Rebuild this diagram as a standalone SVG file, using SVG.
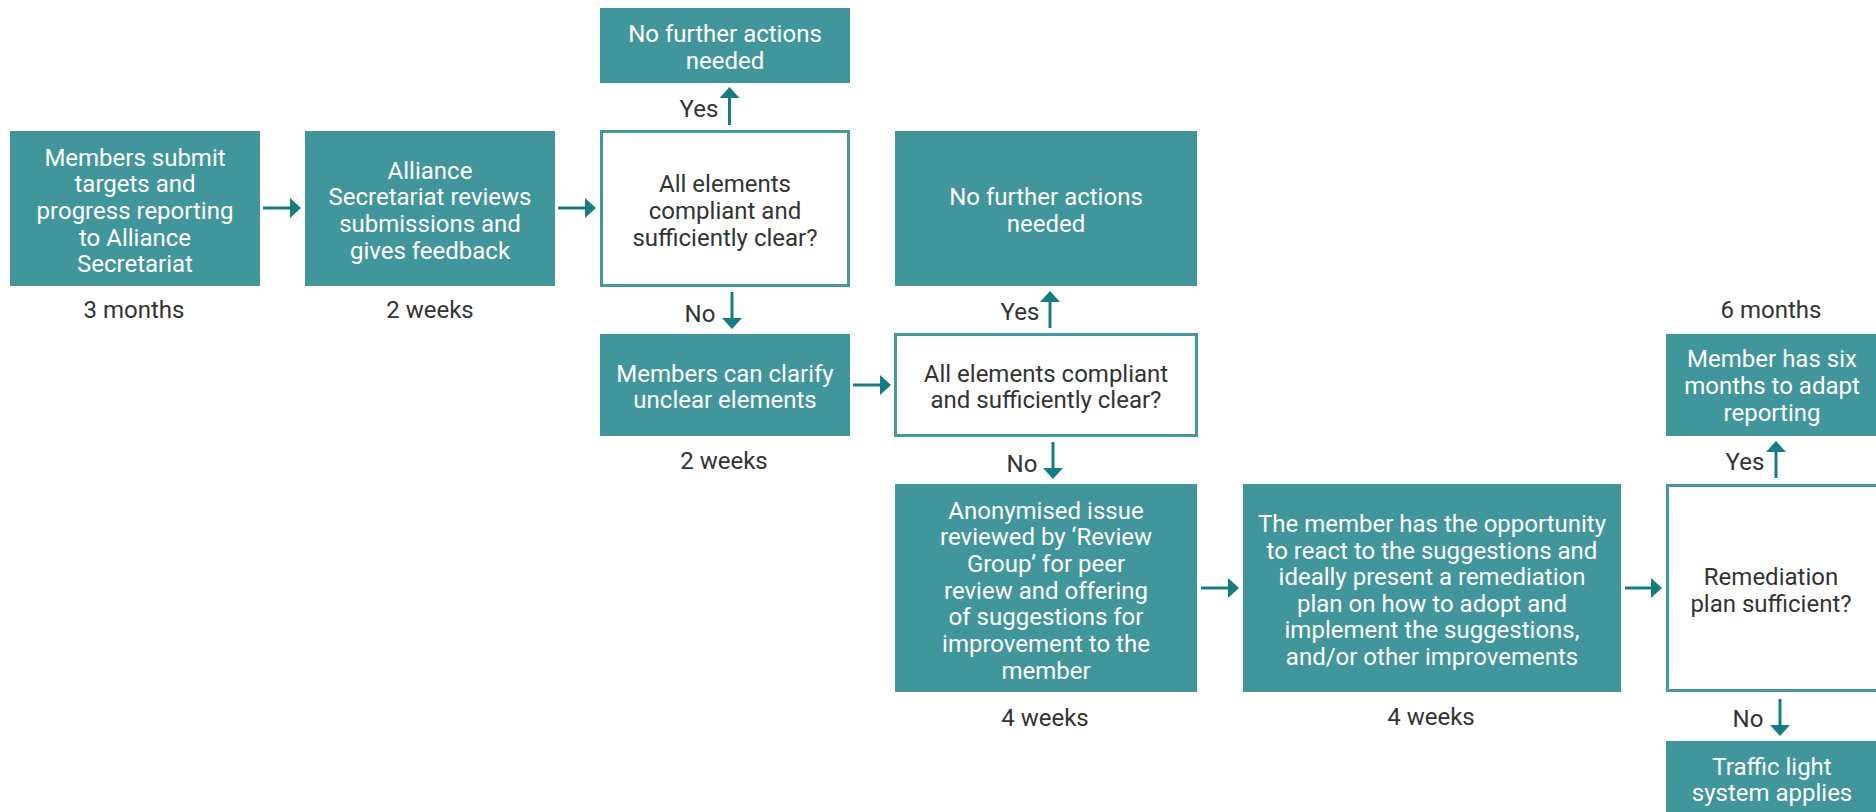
<svg xmlns="http://www.w3.org/2000/svg" width="1876" height="812" viewBox="0 0 1876 812">
<style>
.box{fill:#41969b;}
.dec{fill:#ffffff;stroke:#45999e;stroke-width:3;}
.bt{font-family:Roboto,"Liberation Sans",sans-serif;font-size:24px;fill:#ffffff;text-anchor:middle;}
.dt{font-family:Roboto,"Liberation Sans",sans-serif;font-size:24px;fill:#333333;text-anchor:middle;}
.lb{font-family:Roboto,"Liberation Sans",sans-serif;font-size:24px;fill:#333333;text-anchor:middle;}
.ar{stroke:#147c82;stroke-width:3;fill:none;marker-end:url(#ah);}
</style>
<defs>
<marker id="ah" viewBox="0 0 11 20" markerWidth="11" markerHeight="20" refX="0" refY="10" markerUnits="userSpaceOnUse" orient="auto">
<path d="M0,0 L11,10 L0,20 Z" fill="#147c82"/>
</marker>
</defs>
<rect width="1876" height="812" fill="#ffffff"/>

<g id="connectors">
<line class="ar" x1="263" y1="208" x2="290" y2="208"/>
<line class="ar" x1="558" y1="208" x2="585" y2="208"/>
<line class="ar" x1="729.5" y1="125" x2="729.5" y2="98"/>
<line class="ar" x1="732" y1="292" x2="732" y2="318"/>
<line class="ar" x1="853" y1="385" x2="880" y2="385"/>
<line class="ar" x1="1050" y1="328" x2="1050" y2="302"/>
<line class="ar" x1="1053" y1="442" x2="1053" y2="468"/>
<line class="ar" x1="1201" y1="588" x2="1228" y2="588"/>
<line class="ar" x1="1625" y1="588" x2="1651" y2="588"/>
<line class="ar" x1="1776" y1="478" x2="1776" y2="452"/>
<line class="ar" x1="1780" y1="699" x2="1780" y2="725"/>
</g>

<g id="labels">
<text class="lb" x="134" y="318">3 months</text>
<text class="lb" x="430" y="318">2 weeks</text>
<text class="lb" x="699" y="117">Yes</text>
<text class="lb" x="700" y="322">No</text>
<text class="lb" x="1020" y="320">Yes</text>
<text class="lb" x="1022" y="472">No</text>
<text class="lb" x="724" y="469">2 weeks</text>
<text class="lb" x="1045" y="726">4 weeks</text>
<text class="lb" x="1431" y="725">4 weeks</text>
<text class="lb" x="1771" y="318">6 months</text>
<text class="lb" x="1745" y="470">Yes</text>
<text class="lb" x="1748" y="727">No</text>
</g>

<g id="n1">
<rect class="box" x="10" y="131" width="250" height="155"/>
<text class="bt" x="135" y="165.5">Members submit</text>
<text class="bt" x="135" y="192">targets and</text>
<text class="bt" x="135" y="219">progress reporting</text>
<text class="bt" x="135" y="245.5">to Alliance</text>
<text class="bt" x="135" y="272">Secretariat</text>
</g>

<g id="n2">
<rect class="box" x="305" y="131" width="250" height="155"/>
<text class="bt" x="430" y="178.5">Alliance</text>
<text class="bt" x="430" y="205">Secretariat reviews</text>
<text class="bt" x="430" y="232">submissions and</text>
<text class="bt" x="430" y="258.5">gives feedback</text>
</g>

<g id="d1">
<rect class="dec" x="601.5" y="131.5" width="247" height="154"/>
<text class="dt" x="725" y="192">All elements</text>
<text class="dt" x="725" y="219">compliant and</text>
<text class="dt" x="725" y="245.5">sufficiently clear?</text>
</g>

<g id="n3">
<rect class="box" x="600" y="8" width="250" height="75"/>
<text class="bt" x="725" y="42">No further actions</text>
<text class="bt" x="725" y="68.5">needed</text>
</g>

<g id="n4">
<rect class="box" x="600" y="334" width="250" height="102"/>
<text class="bt" x="725" y="382">Members can clarify</text>
<text class="bt" x="725" y="408">unclear elements</text>
</g>

<g id="d2">
<rect class="dec" x="895.5" y="334.5" width="301" height="101"/>
<text class="dt" x="1046" y="382">All elements compliant</text>
<text class="dt" x="1046" y="408">and sufficiently clear?</text>
</g>

<g id="n5">
<rect class="box" x="895" y="131" width="302" height="155"/>
<text class="bt" x="1046" y="205">No further actions</text>
<text class="bt" x="1046" y="232">needed</text>
</g>

<g id="n6">
<rect class="box" x="895" y="484" width="302" height="208"/>
<text class="bt" x="1046" y="518.5">Anonymised issue</text>
<text class="bt" x="1046" y="545">reviewed by ‘Review</text>
<text class="bt" x="1046" y="572">Group’ for peer</text>
<text class="bt" x="1046" y="598.5">review and offering</text>
<text class="bt" x="1046" y="625">of suggestions for</text>
<text class="bt" x="1046" y="652">improvement to the</text>
<text class="bt" x="1046" y="678.5">member</text>
</g>

<g id="n7">
<rect class="box" x="1243" y="484" width="378" height="208"/>
<text class="bt" x="1432" y="532">The member has the opportunity</text>
<text class="bt" x="1432" y="558.5">to react to the suggestions and</text>
<text class="bt" x="1432" y="585">ideally present a remediation</text>
<text class="bt" x="1432" y="611.5">plan on how to adopt and</text>
<text class="bt" x="1432" y="638">implement the suggestions,</text>
<text class="bt" x="1432" y="664.5">and/or other improvements</text>
</g>

<g id="d3">
<rect class="dec" x="1667.5" y="485.5" width="214" height="205"/>
<text class="dt" x="1771" y="585">Remediation</text>
<text class="dt" x="1771" y="611.5">plan sufficient?</text>
</g>

<g id="n8">
<rect class="box" x="1666" y="334" width="214" height="102"/>
<text class="bt" x="1772" y="367">Member has six</text>
<text class="bt" x="1772" y="394">months to adapt</text>
<text class="bt" x="1772" y="421">reporting</text>
</g>

<g id="n9">
<rect class="box" x="1666" y="741" width="214" height="80"/>
<text class="bt" x="1772" y="774.5">Traffic light</text>
<text class="bt" x="1772" y="801">system applies</text>
</g>
</svg>
